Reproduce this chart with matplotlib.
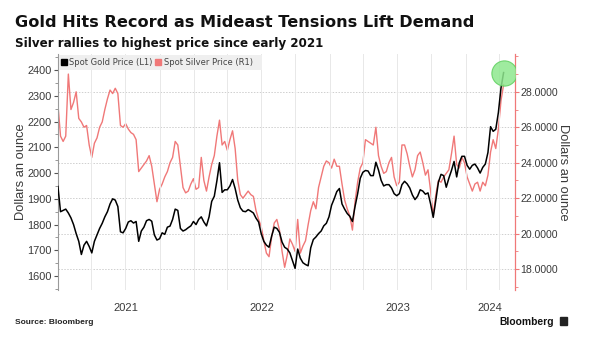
import matplotlib
matplotlib.use("Agg")
import matplotlib.pyplot as plt
import matplotlib.dates as mdates
import matplotlib.ticker as mticker
import pandas as pd
import numpy as np

# Weekly (Friday) observations, 2021-01-01 .. 2024-04-12
dates = pd.date_range("2021-01-01", periods=172, freq="7D")

gold = [
    1948, 1850, 1855, 1860, 1845, 1826, 1800, 1765, 1735, 1684,
    1720, 1735, 1715, 1690, 1735, 1760, 1785, 1805, 1830, 1850,
    1880, 1900, 1895, 1870, 1772, 1768, 1785, 1810, 1815, 1806,
    1812, 1735, 1775, 1790, 1815, 1820, 1813, 1760, 1740, 1745,
    1768, 1762, 1790, 1794, 1820, 1860, 1855, 1785, 1775, 1780,
    1788, 1795, 1812, 1800, 1820, 1830, 1810, 1795, 1830, 1890,
    1910, 1970, 2040, 1925, 1935, 1935, 1950, 1975, 1940, 1895,
    1865, 1852, 1850, 1858, 1852, 1845, 1825, 1810, 1765, 1735,
    1720, 1712, 1755, 1790, 1785, 1770, 1732, 1712, 1705, 1690,
    1660, 1630, 1705, 1670, 1652, 1645, 1640, 1710, 1742, 1752,
    1765, 1775, 1795, 1805, 1830, 1875, 1900, 1928, 1940, 1880,
    1860, 1843, 1832, 1812, 1870, 1920, 1980, 2003, 2010, 2008,
    1990, 1990, 2042, 2012, 1972, 1950, 1955, 1955, 1942, 1920,
    1912, 1920, 1955, 1968, 1958, 1942, 1915, 1897, 1910, 1935,
    1930, 1918, 1923, 1880, 1828, 1895, 1965, 1995, 1990, 1945,
    1980, 2010, 2045, 1985, 2040, 2065, 2065, 2030, 2015, 2030,
    2035, 2020, 2000, 2022, 2035, 2080, 2180, 2162, 2170, 2235,
    2330, 2390,
]

silver = [
    27.3, 25.5, 25.2, 25.5, 29.0, 27.0, 27.4, 28.0, 26.5, 26.3,
    26.0, 26.1, 25.0, 24.3, 25.1, 25.4, 26.0, 26.3, 27.0, 27.6,
    28.1, 27.9, 28.2, 27.9, 26.1, 26.0, 26.2, 25.9, 25.7, 25.6,
    25.3, 23.5, 23.7, 23.9, 24.1, 24.4, 23.8, 22.8, 21.8, 22.5,
    22.8, 23.2, 23.5, 24.0, 24.3, 25.2, 25.0, 23.8, 22.6, 22.3,
    22.4, 22.8, 23.1, 22.5, 22.6, 24.3, 23.0, 22.4, 23.2, 23.9,
    24.4, 25.5, 26.4, 25.0, 25.2, 24.7, 25.3, 25.8, 24.8, 23.0,
    22.2, 22.0, 22.2, 22.4, 22.2, 22.1, 21.3, 20.8, 20.4, 19.6,
    18.9, 18.7, 19.8, 20.6, 20.8, 20.2, 19.0, 18.1, 18.8, 19.7,
    19.4, 19.0, 20.8, 18.9, 19.3, 19.6, 20.5, 21.3, 21.8, 21.4,
    22.6, 23.2, 23.8, 24.1, 24.0, 23.7, 24.2, 23.8, 23.8, 22.8,
    21.9, 21.4, 21.0, 20.2, 21.8, 22.9, 23.7, 24.0, 25.3, 25.2,
    25.1, 25.0, 26.0, 24.4, 23.8, 23.4, 23.5, 24.0, 24.3, 23.2,
    22.7, 22.9, 25.0, 25.0, 24.5, 23.8, 23.2, 23.6, 24.4, 24.6,
    24.0, 23.3, 23.6, 22.4, 21.0, 22.2, 23.0, 22.9, 23.2, 23.4,
    23.6, 24.5, 25.5, 23.9, 23.7, 24.3, 24.0, 23.2, 22.8, 22.4,
    22.8, 22.9, 22.4, 22.9, 22.7, 23.3, 24.6, 25.3, 24.8, 25.9,
    27.5, 28.4,
]

gold_ticks = [1600, 1700, 1800, 1900, 2000, 2100, 2200, 2300, 2400]
silver_ticks = [18, 20, 22, 24, 26, 28]
year_labels = ["2021", "2022", "2023", "2024"]

title = "Gold Hits Record as Mideast Tensions Lift Demand"
subtitle = "Silver rallies to highest price since early 2021"
y_label = "Dollars an ounce"
legend_labels = ["Spot Gold Price (L1)", "Spot Silver Price (R1)"]

GOLD_C = "#000000"
SILVER_C = "#f07878"
TXT_C = "#3a3a3a"

plt.rcParams["font.family"] = ["Liberation Sans", "DejaVu Sans"]

fig = plt.figure(figsize=(5.91, 3.42), dpi=100)
fig.patch.set_facecolor("white")
ax = fig.add_axes([0.098, 0.152, 0.773, 0.69])
ax2 = ax.twinx()

ax.set_zorder(2)
ax.patch.set_visible(False)
ax2.set_zorder(1)

# silver on right axis
ax2.plot(dates, silver, color=SILVER_C, lw=1.0, zorder=3)
ax.plot(dates, gold, color=GOLD_C, lw=1.1, zorder=4)

# highlight circle at the latest point
ax.scatter([dates[-1]], [gold[-1]], s=330, color="#8ee88e", alpha=0.85,
           edgecolors="#5fd05f", linewidths=0.8, zorder=5)

xmin = pd.Timestamp("2021-01-01")
xmax = pd.Timestamp("2024-05-12")
ax.set_xlim(xmin, xmax)
ax.set_ylim(1546, 2462)
ax2.set_ylim(16.82, 30.13)

# quarterly gridlines
ax.xaxis.set_major_locator(mdates.MonthLocator(bymonth=[1, 4, 7, 10]))
ax.xaxis.set_major_formatter(mticker.NullFormatter())
ax.tick_params(axis="x", which="major", length=0)
ax.grid(axis="x", which="major", color="#e8e8e8", lw=0.7)

# year labels at middle of each visible year
mids = []
for y in year_labels:
    a = max(pd.Timestamp(f"{y}-01-01"), xmin)
    b = min(pd.Timestamp(f"{int(y)+1}-01-01"), xmax)
    mids.append(a + (b - a) / 2)
ax.xaxis.set_minor_locator(mticker.FixedLocator(mdates.date2num(mids)))
ax.xaxis.set_minor_formatter(mticker.FixedFormatter(year_labels))
ax.tick_params(axis="x", which="minor", length=0, pad=9, labelsize=8.0,
               labelcolor=TXT_C)

# left axis
ax.set_yticks(gold_ticks)
ax.yaxis.set_minor_locator(mticker.MultipleLocator(50))
ax.tick_params(axis="y", which="major", length=3, width=0.8, color="#555555",
               labelsize=7.9, labelcolor=TXT_C, pad=1.5)
ax.tick_params(axis="y", which="minor", length=2, width=0.6, color="#888888")
ax.set_ylabel(y_label, fontsize=9.3, color=TXT_C)
ax.yaxis.set_label_coords(-0.068, 0.5)

# right axis
ax2.set_yticks(silver_ticks)
ax2.yaxis.set_major_formatter(mticker.FormatStrFormatter("%.4f"))
ax2.yaxis.set_minor_locator(mticker.MultipleLocator(1))
ax2.tick_params(axis="y", which="major", length=3, width=0.8, color=SILVER_C,
                labelsize=7.6, labelcolor=TXT_C, pad=1.0)
ax2.tick_params(axis="y", which="minor", length=2, width=0.6, color=SILVER_C)
ax2.grid(axis="y", which="major", color="#cfcfcf", lw=0.7, ls=(0, (1.5, 1.5)))
ax2.set_ylabel(y_label, fontsize=9.3, color=TXT_C, rotation=270)
ax2.yaxis.set_label_coords(1.119, 0.5)

for a in (ax, ax2):
    for s in ("top", "bottom"):
        a.spines[s].set_visible(False)
ax.spines["right"].set_visible(False)
ax2.spines["left"].set_visible(False)
ax.spines["left"].set_color("#9a9a9a")
ax.spines["left"].set_linewidth(0.8)
ax2.spines["right"].set_color(SILVER_C)
ax2.spines["right"].set_linewidth(0.9)

# legend box
leg_ax = fig.add_axes([0.099, 0.795, 0.345, 0.045])
leg_ax.set_xlim(0, 1)
leg_ax.set_ylim(0, 1)
leg_ax.axis("off")
leg_ax.add_patch(plt.Rectangle((0, 0), 1, 1, color="#efefef", zorder=0))
leg_ax.plot([0.025], [0.5], marker="s", ms=4.2, color=GOLD_C, ls="none")
leg_ax.text(0.05, 0.48, legend_labels[0], fontsize=6, color="#444444",
            va="center", ha="left", family="DejaVu Sans")
leg_ax.plot([0.49], [0.5], marker="s", ms=4.2, color=SILVER_C, ls="none")
leg_ax.text(0.515, 0.48, legend_labels[1], fontsize=6, color="#444444",
            va="center", ha="left", family="DejaVu Sans")
leg_ax.set_zorder(6)

# titles
fig.text(0.025, 0.935, title, fontsize=11.6, fontweight="bold", color="#111111",
         ha="left", va="center", family="DejaVu Sans")
fig.text(0.025, 0.872, subtitle, fontsize=8.55, fontweight="bold",
         color="#111111", ha="left", va="center", family="DejaVu Sans")

# footer
fig.text(0.025, 0.058, "Source: Bloomberg", fontsize=6.0, fontweight="bold",
         color="#222222", ha="left", va="center")
fig.text(0.937, 0.058, "Bloomberg", fontsize=7.4, fontweight="bold",
         color="#111111", ha="right", va="center")
fig.patches.append(plt.Rectangle((0.9475, 0.05), 0.012, 0.023,
                                 transform=fig.transFigure, color="#222222"))

fig.savefig("out.png", dpi=100, facecolor="white")
